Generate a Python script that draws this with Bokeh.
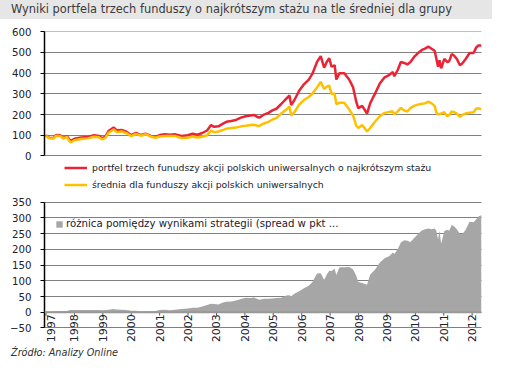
import numpy as np
from bokeh.plotting import figure
from bokeh.models import Legend, LegendItem, FixedTicker, Span, LabelSet, ColumnDataSource, Div
from bokeh.layouts import column
from bokeh.embed import file_html
from bokeh.resources import INLINE
from bokeh.core.properties import value

# ---------------- data ----------------
dates = [1997.00, 1997.10, 1997.27, 1997.35, 1997.50, 1997.62, 1997.73, 1997.86,
         1998.00, 1998.24, 1998.47, 1998.69, 1998.86, 1998.98, 1999.09, 1999.20,
         1999.38, 1999.49, 1999.66, 1999.83, 2000.00, 2000.17, 2000.34, 2000.51,
         2000.68, 2000.85, 2001.00, 2001.19, 2001.36, 2001.53, 2001.76, 2001.99,
         2002.16, 2002.33, 2002.50, 2002.67, 2002.81, 2002.92, 2003.07, 2003.20,
         2003.35, 2003.52, 2003.69, 2003.86, 2004.03, 2004.20, 2004.32, 2004.45,
         2004.51, 2004.67, 2004.83, 2004.97, 2005.11, 2005.28, 2005.46, 2005.57,
         2005.63, 2005.74, 2005.91, 2006.08, 2006.25, 2006.37, 2006.54, 2006.67,
         2006.79, 2006.88, 2006.97, 2007.05, 2007.16, 2007.22, 2007.33, 2007.50,
         2007.67, 2007.81, 2007.92, 2007.99, 2008.13, 2008.30, 2008.41, 2008.52,
         2008.58, 2008.75, 2008.92, 2009.09, 2009.21, 2009.26, 2009.38, 2009.49,
         2009.61, 2009.72, 2009.83, 2009.95, 2010.12, 2010.23, 2010.34, 2010.46,
         2010.57, 2010.68, 2010.74, 2010.80, 2010.85, 2010.91, 2011.02, 2011.12,
         2011.19, 2011.28, 2011.36, 2011.46, 2011.57, 2011.65, 2011.76, 2011.91,
         2012.05, 2012.14, 2012.22, 2012.33]

portfel = [100, 88, 87, 101, 100, 87, 96, 72,
           83, 89, 92, 100, 97, 86, 94, 120,
           138, 124, 126, 117, 101, 111, 101, 108,
           97, 92, 101, 105, 103, 105, 97, 100,
           108, 103, 111, 123, 149, 141, 143, 154,
           165, 169, 174, 185, 192, 195, 198, 188,
           185, 200, 208, 220, 228, 251, 277, 292,
           246, 269, 315, 346, 369, 395, 454, 482,
           426, 454, 472, 431, 438, 369, 400, 400,
           369, 331, 262, 231, 242, 205, 254, 285,
           300, 350, 380, 392, 405, 385, 415, 454,
           449, 442, 454, 477, 500, 512, 518, 528,
           518, 508, 469, 431, 462, 423, 469, 454,
           457, 492, 485, 469, 438, 446, 466, 497,
           497, 523, 534, 534]

srednia = [98, 86, 84, 98, 96, 83, 92, 65,
           76, 82, 85, 93, 90, 80, 87, 112,
           128, 115, 118, 110, 96, 106, 98, 105,
           94, 88, 94, 97, 97, 97, 87, 88,
           94, 89, 93, 100, 122, 115, 118, 124,
           132, 135, 137, 143, 146, 150, 151, 146,
           145, 157, 165, 176, 183, 205, 224, 238,
           195, 210, 248, 270, 285, 300, 331, 358,
           323, 335, 340, 300, 300, 251, 257, 257,
           225, 195, 146, 135, 149, 118, 135, 155,
           165, 192, 208, 213, 215, 200, 215, 232,
           220, 215, 231, 242, 249, 252, 254, 262,
           254, 242, 210, 200, 203, 205, 211, 192,
           198, 215, 212, 205, 189, 198, 205, 209,
           211, 228, 230, 226]

label_years = list(range(1997, 2013))
year_labels = [str(y) for y in label_years]
top_ticks = [0, 100, 200, 300, 400, 500, 600]
bottom_ticks = [-50, 0, 50, 100, 150, 200, 250, 300, 350]

spread = (np.array(portfel) - np.array(srednia)).tolist()

# ---------------- styling ----------------
FONT = "DejaVu Sans"
TXT = "#20202e"
RED = "#ea2434"
YEL = "#ffc000"
GRAY = "#a6a6a6"
W = 492
LEFT = 44
RIGHT = 11
PX_PER_YEAR = 28.41
X0 = 1997 + (LEFT - 45.5) / PX_PER_YEAR
X1 = X0 + (W - LEFT - RIGHT) / PX_PER_YEAR


def style_y(ax, ticks):
    ax.ticker = FixedTicker(ticks=ticks)
    ax.bounds = (ticks[0], ticks[-1])
    ax.axis_line_color = "black"
    ax.axis_line_width = 1.5
    ax.major_tick_line_color = "black"
    ax.major_tick_out = 4
    ax.major_tick_in = 0
    ax.minor_tick_line_color = None
    ax.major_label_standoff = 9
    ax.major_label_text_font = FONT
    ax.major_label_text_font_size = "10.2px"
    ax.major_label_text_color = TXT


def style_grid(p, ticks):
    p.outline_line_color = None
    p.xgrid.visible = False
    p.ygrid.ticker = FixedTicker(ticks=ticks)
    p.ygrid.grid_line_color = "black"
    p.ygrid.grid_line_dash = "1 1"
    p.ygrid.grid_line_width = 1


# ---------------- title bar ----------------
title = Div(
    text='<div style="width:492px;height:19px;line-height:19px;background:#e6e6e6;'
         'font-family:\'DejaVu Sans\';font-size:11.4px;color:#3a3a3a;white-space:nowrap;'
         'overflow:hidden;box-sizing:border-box;padding-left:11px;">'
         'Wyniki portfela trzech funduszy o najkrótszym stażu na tle średniej dla grupy</div>',
    width=W, height=19, margin=0)

# ---------------- top chart (legend area kept inside the frame, below 0) ----------------
p1 = figure(width=W, height=176, x_range=(X0, X1), y_range=(-186, 601),
            toolbar_location=None, output_backend="svg",
            min_border_left=LEFT, min_border_right=RIGHT, min_border_top=12, min_border_bottom=1,
            x_axis_location=None)
style_grid(p1, top_ticks)
style_y(p1.yaxis[0], top_ticks)

r1 = p1.line(dates, portfel, line_color=RED, line_width=2.5)
r2 = p1.line(dates, srednia, line_color=YEL, line_width=2.5)

leg1 = Legend(items=[
    LegendItem(label="portfel trzech funudszy akcji polskich uniwersalnych o najkrótszym stażu", renderers=[r1]),
    LegendItem(label="średnia dla funduszy akcji polskich uniwersalnych", renderers=[r2]),
], location=(20, 1), orientation="vertical", glyph_width=23, glyph_height=17,
    label_height=17, spacing=0, padding=1, margin=0, label_standoff=5,
    border_line_color=None, background_fill_alpha=0,
    label_text_font=FONT, label_text_font_size="9.3px", label_text_color=TXT)
p1.add_layout(leg1, "center")

# ---------------- bottom chart ----------------
p2 = figure(width=W, height=147, x_range=(X0, X1), y_range=(-93, 352),
            toolbar_location=None, output_backend="svg",
            min_border_left=LEFT, min_border_right=RIGHT, min_border_top=6, min_border_bottom=1,
            x_axis_location=None)
style_grid(p2, bottom_ticks)
style_y(p2.yaxis[0], bottom_ticks)

ra = p2.varea(x=dates, y1=0, y2=spread, fill_color=GRAY)
p2.add_layout(Span(location=0, dimension="width", line_color="#989898", line_width=2))
p2.segment(x0=label_years, y0=0, x1=label_years, y1=-11, line_color="#555555", line_width=1)
# first label nudged right so that it is not cut by the frame edge
nudge = [5] + [0] * (len(label_years) - 1)
lab_src = ColumnDataSource(dict(x=label_years, y=[-6] * len(label_years), text=year_labels, dx=nudge))
p2.add_layout(LabelSet(x="x", y="y", text="text", source=lab_src, angle=np.pi / 2,
                       x_offset="dx", text_align="right", text_baseline="middle",
                       text_font=value(FONT), text_font_size="11px", text_color=TXT))

leg2 = Legend(items=[LegendItem(label="różnica pomiędzy wynikami strategii (spread w pkt ...", renderers=[ra])],
              location=(11, 112), glyph_width=8, glyph_height=8, label_height=8,
              padding=0, margin=0, spacing=0, label_standoff=3,
              border_line_color=None, background_fill_alpha=0,
              label_text_font=FONT, label_text_font_size="10.2px", label_text_color=TXT)
p2.add_layout(leg2, "center")

# ---------------- source line ----------------
source = Div(
    text='<div style="width:492px;height:21px;line-height:21px;'
         'font-family:\'DejaVu Sans\';font-size:9.7px;font-style:italic;color:#303030;'
         'white-space:nowrap;box-sizing:border-box;padding-left:11px;">'
         'Źródło: Analizy Online</div>',
    width=W, height=21, margin=0)

layout = column(title, p1, p2, source, spacing=0)
open("out.html", "w").write(file_html(layout, INLINE))
